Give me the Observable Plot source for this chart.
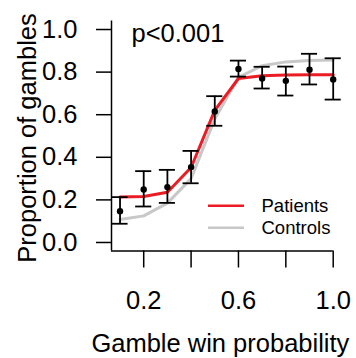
<!DOCTYPE html>
<html><head><meta charset="utf-8">
<script src="https://cdn.jsdelivr.net/npm/d3@7"></script>
<script src="https://cdn.jsdelivr.net/npm/@observablehq/plot@0.6"></script>
<style>
body{margin:0;background:#fff}
#chart svg{font-family:"Liberation Sans",Arial,Helvetica,sans-serif;color:#000}
</style>
</head><body><div id="chart"></div>
<script>
// Data
const winProb     = [0.1, 0.2, 0.3, 0.4, 0.5, 0.6, 0.7, 0.8, 0.9, 1.0];
const patientMean = [0.147, 0.249, 0.260, 0.354, 0.615, 0.815, 0.770, 0.759, 0.811, 0.765];
const patientLo   = [0.088, 0.169, 0.186, 0.278, 0.548, 0.779, 0.723, 0.690, 0.742, 0.671];
const patientHi   = [0.213, 0.335, 0.341, 0.430, 0.687, 0.854, 0.825, 0.826, 0.886, 0.865];
const patientFit  = [0.213, 0.216, 0.236, 0.352, 0.620, 0.770, 0.783, 0.787, 0.788, 0.788];
const controlFit  = [0.108, 0.125, 0.185, 0.300, 0.580, 0.775, 0.830, 0.848, 0.855, 0.857];
const xTicks      = [0.2, 0.4, 0.6, 0.8, 1.0];
const xTickLabels = ["0.2", "", "0.6", "", "1.0"];
const yTicks      = [0.0, 0.2, 0.4, 0.6, 0.8, 1.0];
const yTickLabels = ["0.0", "0.2", "0.4", "0.6", "0.8", "1.0"];
const seriesNames = ["Patients", "Controls"];
const seriesColors = ["#ec1c24", "#c8c8c8"];
const annotation  = "p<0.001";
const xTitle = "Gamble win probability";
const yTitle = "Proportion of gambles";
const xDomain = [0.064, 1.0];
const yDomain = [-0.04, 1.04];

const points = winProb.map((x, i) => ({x, mean: patientMean[i], lo: patientLo[i], hi: patientHi[i]}));
const fits = [
  ...winProb.map((x, i) => ({x, y: patientFit[i], s: seriesNames[0]})),
  ...winProb.map((x, i) => ({x, y: controlFit[i], s: seriesNames[1]}))
];
const capHalf = 0.034;
const fs = 25.5;

const plot = Plot.plot({
  width: 356,
  height: 358,
  marginLeft: 111,
  marginRight: 23.3,
  marginTop: 20.5,
  marginBottom: 107.5,
  x: {domain: xDomain},
  y: {domain: yDomain},
  style: {background: "white", color: "black"},
  marks: [
    Plot.ruleX([xDomain[0]], {stroke: "black", strokeWidth: 1.5}),
    Plot.ruleY([yDomain[0]], {stroke: "black", strokeWidth: 1.5}),
    Plot.axisY(yTicks, {anchor: "left", tickSize: 15, tickPadding: 19, fontSize: fs,
      tickFormat: d => yTickLabels[yTicks.indexOf(d)], strokeWidth: 1.5, label: null}),
    Plot.axisX(xTicks, {anchor: "bottom", tickSize: 17, tickPadding: 23, fontSize: fs,
      tickFormat: d => xTickLabels[xTicks.indexOf(d)], strokeWidth: 1.5, label: null}),
    Plot.line(fits.filter(d => d.s === seriesNames[1]), {x: "x", y: "y", stroke: seriesColors[1], strokeWidth: 3}),
    Plot.line(fits.filter(d => d.s === seriesNames[0]), {x: "x", y: "y", stroke: seriesColors[0], strokeWidth: 3}),
    Plot.ruleX(points, {x: "x", y1: "lo", y2: "hi", stroke: "black", strokeWidth: 1.8}),
    Plot.ruleY(points, {y: "lo", x1: d => d.x - capHalf, x2: d => d.x + capHalf, stroke: "black", strokeWidth: 1.8}),
    Plot.ruleY(points, {y: "hi", x1: d => d.x - capHalf, x2: d => d.x + capHalf, stroke: "black", strokeWidth: 1.8}),
    Plot.dot(points, {x: "x", y: "mean", r: 3.2, fill: "black"}),
    Plot.text([annotation], {frameAnchor: "top-left", textAnchor: "start", lineAnchor: "top",
      dx: 20, dy: 3, fontSize: fs, fill: "black"}),
    Plot.text([yTitle], {frameAnchor: "left", rotate: -90, lineAnchor: "middle", textAnchor: "middle",
      dx: -84, dy: 2, fontSize: fs, fill: "black"}),
    Plot.text([xTitle], {frameAnchor: "bottom", lineAnchor: "middle", textAnchor: "middle",
      dy: 93, dx: -2, fontSize: fs, fill: "black"})
  ]
});
document.getElementById("chart").appendChild(plot);

// Legend inside the plot area
const svg = d3.select(plot);
const leg = svg.append("g").attr("font-size", 18.5).attr("text-anchor", "start");
seriesNames.forEach((name, i) => {
  const yy = 205.7 + i * 22;
  leg.append("line").attr("x1", 208).attr("x2", 244).attr("y1", yy).attr("y2", yy)
    .attr("stroke", seriesColors[i]).attr("stroke-width", 2.5);
  leg.append("text").attr("x", 261.5).attr("y", yy).attr("dy", "0.35em").attr("fill", "black").text(name);
});
</script>
</body></html>
